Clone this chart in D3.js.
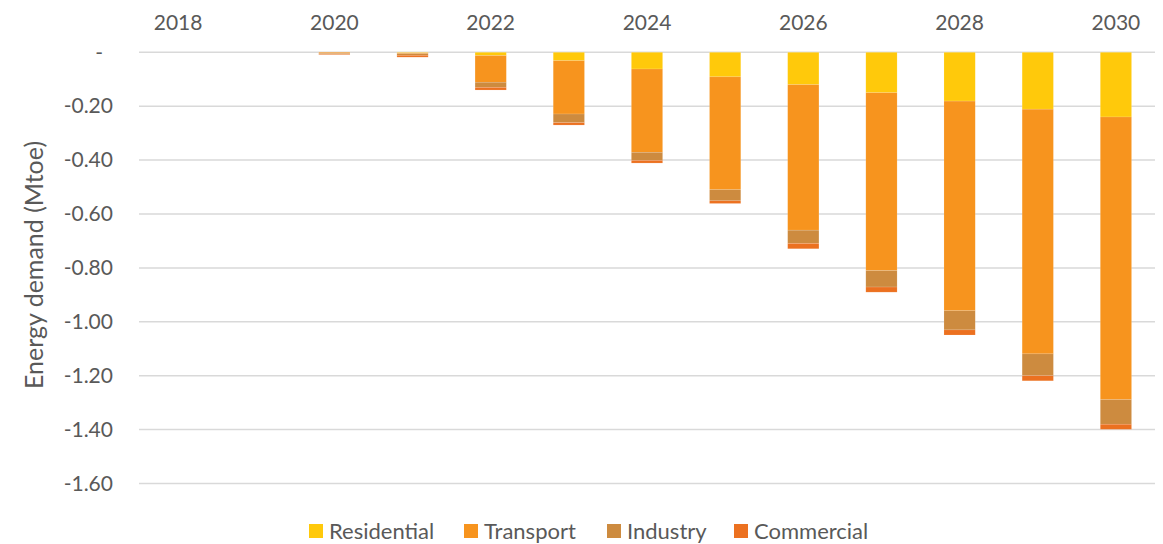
<!DOCTYPE html>
<html>
<head>
<meta charset="utf-8">
<script src="https://cdn.jsdelivr.net/npm/d3@7"></script>
<style>
  html, body { margin: 0; padding: 0; background: #fff; }
  svg { display: block; font-family: Lato, "Open Sans", sans-serif; }
</style>
</head>
<body>
<svg id="chart" width="1163" height="544"></svg>
<script>
// ---- Data (Mtoe, negative = reduction in demand) ----
const years = ["2018","2019","2020","2021","2022","2023","2024","2025","2026","2027","2028","2029","2030"];
const xTickLabels = ["2018","2020","2022","2024","2026","2028","2030"];
const seriesNames = ["Residential","Transport","Industry","Commercial"];
const residential = [0, 0, 0, -0.002, -0.012, -0.031, -0.062, -0.091, -0.120, -0.150, -0.181, -0.211, -0.240];
const transport   = [0, 0, -0.004, -0.003, -0.099, -0.198, -0.309, -0.419, -0.540, -0.660, -0.778, -0.908, -1.049];
const industry    = [0, 0, -0.003, -0.006, -0.019, -0.032, -0.030, -0.041, -0.049, -0.061, -0.071, -0.081, -0.091];
const commercial  = [0, 0, -0.002, -0.007, -0.010, -0.009, -0.010, -0.010, -0.020, -0.019, -0.019, -0.019, -0.019];
const yTickValues = [0, -0.2, -0.4, -0.6, -0.8, -1.0, -1.2, -1.4, -1.6];
const yTickLabels = ["-", "-0.20", "-0.40", "-0.60", "-0.80", "-1.00", "-1.20", "-1.40", "-1.60"];
const colors = ["#FFC90B", "#F7941E", "#CD8B3F", "#EC7120"];
const yTitle = "Energy demand (Mtoe)";

// ---- Layout ----
const svg = d3.select("#chart");
const plotLeft = 139, plotRight = 1155, plotTop = 52.3, plotBottom = 483.5;
const x = d3.scaleBand().domain(years).range([plotLeft, plotRight]).paddingInner(0.6).paddingOuter(0.3);
const y = d3.scaleLinear().domain([0, -1.6]).range([plotTop, plotBottom]);

const rows = years.map((yr, i) => ({
  year: yr, Residential: residential[i], Transport: transport[i],
  Industry: industry[i], Commercial: commercial[i]
}));
const stack = d3.stack().keys(seriesNames).offset(d3.stackOffsetDiverging);
const layers = stack(rows);

// Gridlines
svg.append("g").selectAll("line").data(yTickValues).join("line")
  .attr("x1", plotLeft).attr("x2", plotRight)
  .attr("y1", d => y(d)).attr("y2", d => y(d))
  .attr("stroke", "#d9d9d9").attr("stroke-width", 1.5);

// Bars
svg.append("g").selectAll("g").data(layers).join("g")
  .attr("fill", (d, i) => colors[i])
  .selectAll("rect").data(d => d).join("rect")
  .attr("x", d => x(d.data.year))
  .attr("width", x.bandwidth())
  .attr("y", d => y(Math.max(d[0], d[1])))
  .attr("height", d => Math.abs(y(d[0]) - y(d[1])))
  .attr("stroke", "rgba(255,255,255,0.25)")
  .attr("stroke-width", 0.5);

// Top x-axis labels
const xAxis = d3.axisTop(x).tickValues(xTickLabels).tickSize(0).tickPadding(0);
const gx = svg.append("g").attr("transform", "translate(0,30)").call(xAxis);
gx.select(".domain").remove();
gx.selectAll("text").attr("fill", "#595959").attr("font-size", 21)
  .attr("font-family", "Lato, sans-serif").attr("dy", 0);

// Y-axis labels
const yAxis = d3.axisLeft(y).tickValues(yTickValues)
  .tickFormat((d, i) => yTickLabels[i]).tickSize(0).tickPadding(0);
const gy = svg.append("g").attr("transform", "translate(113,0)").call(yAxis);
gy.select(".domain").remove();
gy.selectAll("text").attr("fill", "#595959").attr("font-size", 21)
  .attr("font-family", "Lato, sans-serif")
  .attr("dx", (d, i) => yTickLabels[i] === "-" ? -10 : 0);

// Y title
svg.append("text")
  .attr("transform", "translate(43,265) rotate(-90)")
  .attr("text-anchor", "middle")
  .attr("fill", "#595959").attr("font-size", 25)
  .text(yTitle);

// Legend
const legendX = [309, 464, 607, 734];
const lg = svg.append("g").selectAll("g").data(seriesNames).join("g")
  .attr("transform", (d, i) => `translate(${legendX[i]},0)`);
lg.append("rect").attr("x", 0).attr("y", 524).attr("width", 14).attr("height", 14)
  .attr("fill", (d, i) => colors[i]);
lg.append("text").attr("x", 20).attr("y", 538.5)
  .attr("fill", "#595959").attr("font-size", 22).text(d => d);
</script>
</body>
</html>
